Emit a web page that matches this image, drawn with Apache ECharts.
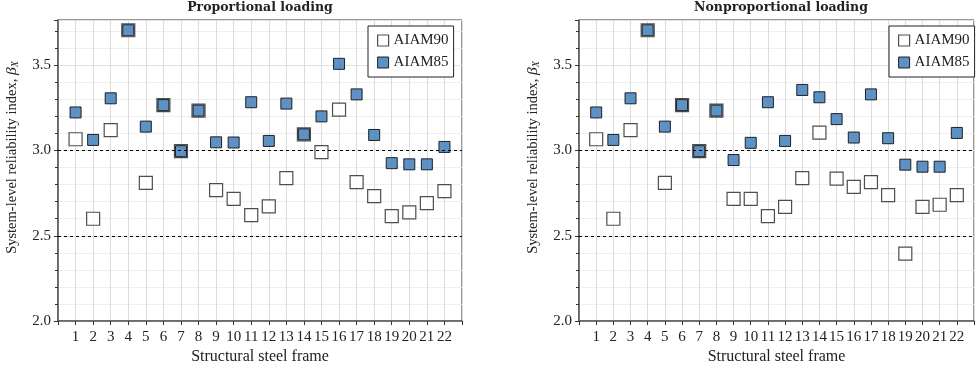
<!DOCTYPE html>
<html>
<head>
<meta charset="utf-8">
<script src="https://cdn.jsdelivr.net/npm/echarts@6/dist/echarts.min.js"></script>
<style>
  html, body { margin: 0; padding: 0; background: #fff; }
  #content { width: 977px; height: 370px; }
</style>
</head>
<body>
<div id="content"></div>
<script>
// 结构框架编号
var frames = [1, 2, 3, 4, 5, 6, 7, 8, 9, 10, 11, 12, 13, 14, 15, 16, 17, 18, 19, 20, 21, 22];

// Proportional loading
var propAIAM90 = [3.066, 2.600, 3.120, 3.705, 2.810, 3.266, 2.996, 3.234, 2.768, 2.717, 2.621,
                  2.672, 2.838, 3.095, 2.990, 3.240, 2.815, 2.732, 2.615, 2.637, 2.691, 2.762];
var propAIAM85 = [3.223, 3.062, 3.306, 3.705, 3.140, 3.266, 2.996, 3.234, 3.048, 3.047, 3.283,
                  3.056, 3.275, 3.095, 3.200, 3.508, 3.329, 3.091, 2.926, 2.919, 2.919, 3.021];

// Nonproportional loading
var nonpropAIAM90 = [3.066, 2.600, 3.120, 3.705, 2.810, 3.266, 2.996, 3.234, 2.717, 2.717, 2.615,
                     2.670, 2.838, 3.105, 2.835, 2.787, 2.815, 2.738, 2.396, 2.670, 2.682, 2.738];
var nonpropAIAM85 = [3.223, 3.062, 3.306, 3.705, 3.140, 3.266, 2.996, 3.234, 2.944, 3.045, 3.283,
                     3.056, 3.355, 3.312, 3.184, 3.076, 3.329, 3.072, 2.917, 2.905, 2.905, 3.103];

var refLines = [3.0, 2.5];
var titles = ["Proportional loading", "Nonproportional loading"];

var FONT = "Liberation Serif";
var BLUE = "#4a86c0";

function pairs(vals) {
    return frames.map(function (f, i) { return [f, vals[i]]; });
}

function makeX(idx) {
    return {
        type: "value", gridIndex: idx, min: 0, max: 23, interval: 1,
        name: "Structural steel frame", nameLocation: "middle", nameGap: 24,
        nameTextStyle: { fontFamily: FONT, fontSize: 16, color: "#222" },
        axisLine: { lineStyle: { color: "#555", width: 1.5 } },
        axisTick: { length: 4, lineStyle: { color: "#333" } },
        axisLabel: {
            fontFamily: FONT, fontSize: 15, color: "#222", margin: 8,
            formatter: function (v) { return (v < 1 || v > 22) ? "" : String(v); }
        },
        splitLine: { show: true, lineStyle: { color: "#dcdcdc", width: 1 } }
    };
}

function makeY(idx) {
    return {
        type: "value", gridIndex: idx, min: 2.0, max: 3.765, interval: 0.5,
        name: "System-level reliability index, {b|β}{s|X}",
        nameLocation: "middle", nameGap: 38, nameRotate: 90,
        nameTextStyle: {
            fontFamily: FONT, fontSize: 14.5, color: "#222", padding: [0, 0, 0, 26],
            rich: {
                b: { fontFamily: FONT, fontSize: 15.5, fontStyle: "italic", color: "#222" },
                s: { fontFamily: FONT, fontSize: 10, fontStyle: "italic", color: "#222", verticalAlign: "bottom", padding: [6, 0, 0, 0] }
            }
        },
        axisLine: { show: true, lineStyle: { color: "#555", width: 1.5 } },
        axisTick: { show: true, length: 4, lineStyle: { color: "#333" } },
        minorTick: { show: true, splitNumber: 5, length: 3, lineStyle: { color: "#333" } },
        axisLabel: {
            fontFamily: FONT, fontSize: 15, color: "#222", margin: 7, showMaxLabel: false,
            formatter: function (v) { return v.toFixed(1); }
        },
        splitLine: { show: true, lineStyle: { color: "#e0e0e0", width: 1 } },
        minorSplitLine: { show: true, lineStyle: { color: "#efefef", width: 1 } }
    };
}

function makeSeries(idx, a90, a85) {
    return [{
        name: "AIAM90", type: "scatter", xAxisIndex: idx, yAxisIndex: idx,
        symbol: "rect", symbolSize: 13, data: pairs(a90),
        itemStyle: { color: "#fff", borderColor: "#222", borderWidth: 1.2, opacity: 0.8 },
        markLine: {
            silent: true, symbol: "none", label: { show: false },
            lineStyle: { color: "#000", type: [3, 3], width: 1 },
            data: refLines.map(function (v) { return { yAxis: v }; })
        },
        z: 3
    }, {
        name: "AIAM85", type: "scatter", xAxisIndex: idx, yAxisIndex: idx,
        symbol: "rect", symbolSize: 11, data: pairs(a85),
        itemStyle: { color: BLUE, borderColor: "#111", borderWidth: 1, opacity: 0.9 },
        z: 4
    }];
}

function makeLegend(left) {
    return {
        orient: "vertical", left: left, top: 26,
        data: [
            { name: "AIAM90", itemStyle: { color: "#fff", borderColor: "#222", borderWidth: 1.2 } },
            { name: "AIAM85", itemStyle: { color: BLUE, borderColor: "#111", borderWidth: 1 } }
        ],
        icon: "rect", itemWidth: 11, itemHeight: 11, itemGap: 7,
        backgroundColor: "#fff", borderColor: "#222", borderWidth: 1, borderRadius: 0,
        padding: [7, 5, 7, 9],
        textStyle: { fontFamily: FONT, fontSize: 15, color: "#222" },
        selectedMode: false
    };
}

var myChart = echarts.init(document.getElementById("content"));

myChart.setOption({
    animation: false,
    title: [
        { text: titles[0], left: 260, top: 0, padding: [1, 0, 0, 0], textAlign: "center",
          textStyle: { fontFamily: "DejaVu Serif", fontSize: 12.5, fontWeight: "bold", color: "#222" } },
        { text: titles[1], left: 781, top: 0, padding: [1, 0, 0, 0], textAlign: "center",
          textStyle: { fontFamily: "DejaVu Serif", fontSize: 12.5, fontWeight: "bold", color: "#222" } }
    ],
    legend: [makeLegend(368), makeLegend(889)],
    grid: [
        { left: 58, right: 515, top: 20, bottom: 47, show: true, borderColor: "#333", borderWidth: 1 },
        { left: 579, right: -6, top: 20, bottom: 47, show: true, borderColor: "#333", borderWidth: 1 }
    ],
    xAxis: [makeX(0), makeX(1)],
    yAxis: [makeY(0), makeY(1)],
    series: makeSeries(0, propAIAM90, propAIAM85).concat(makeSeries(1, nonpropAIAM90, nonpropAIAM85))
});
</script>
</body>
</html>
